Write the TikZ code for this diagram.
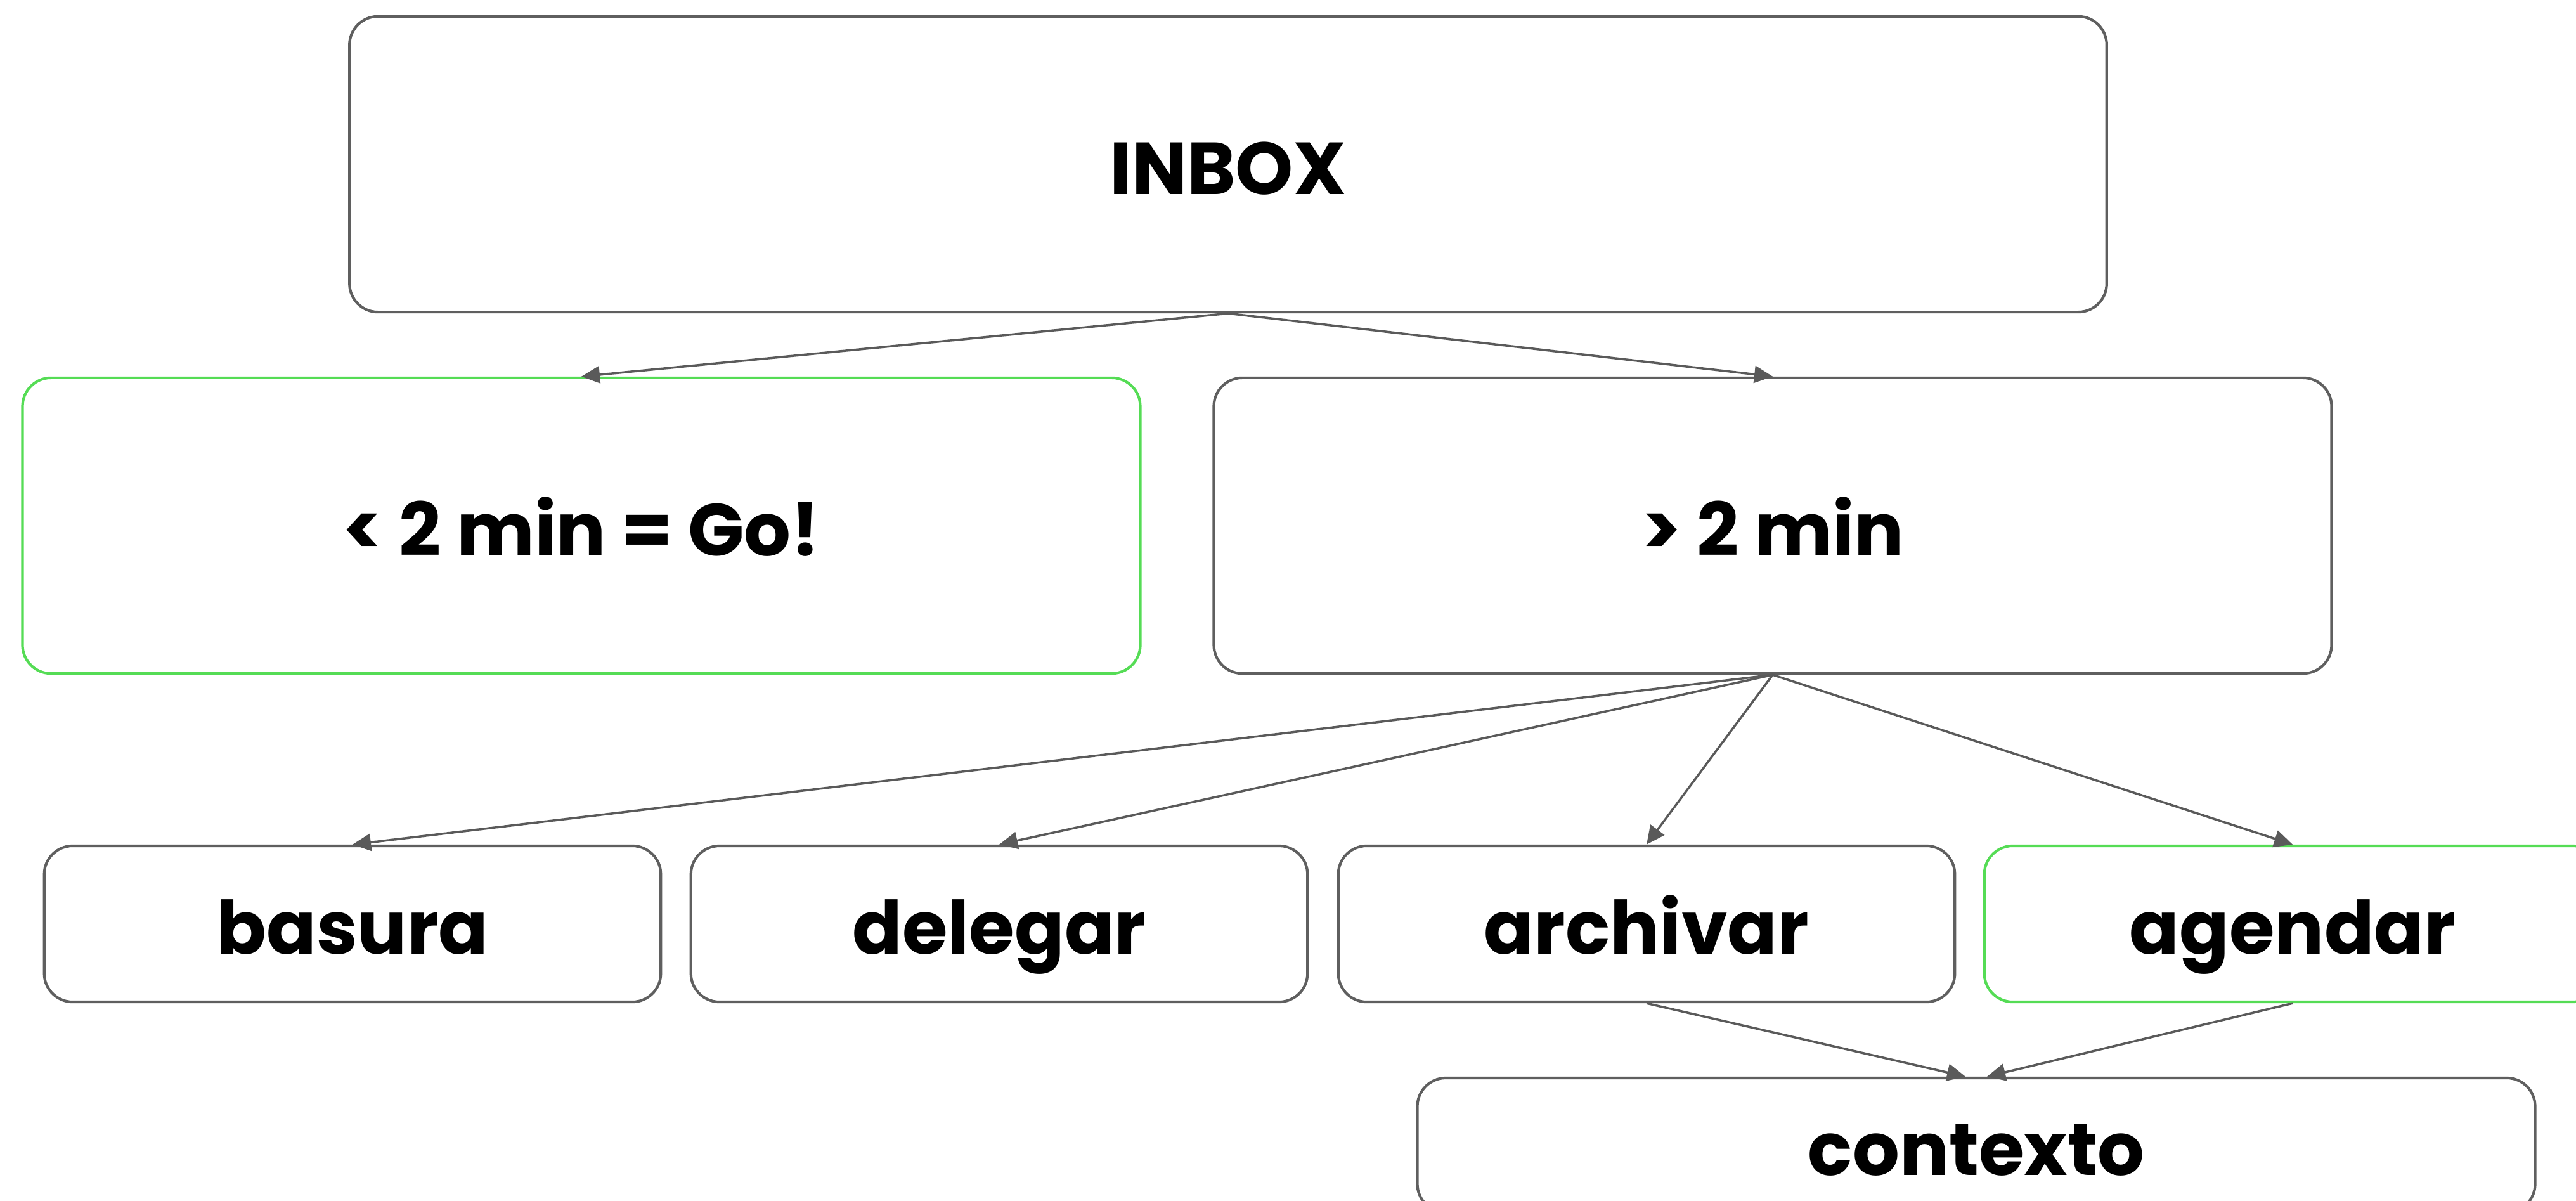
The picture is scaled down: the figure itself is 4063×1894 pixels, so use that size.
\documentclass[tikz,border=0pt]{standalone}
\usepackage{fontspec}
\setmainfont{Poppins}
\usetikzlibrary{arrows.meta}
\definecolor{boxgray}{RGB}{95,95,95}
\definecolor{linegray}{RGB}{90,90,90}
\definecolor{okgreen}{RGB}{85,220,85}

\begin{document}
\begin{tikzpicture}[x=0.01cm,y=-0.01cm,
    box/.style={draw=boxgray, line width=1.2pt, rounded corners=0.45cm,
      font=\fontsize{33}{40}\selectfont\bfseries, text=black,
      text height=29pt, text depth=2pt},
    bigbox/.style={box, minimum width=17.62cm, minimum height=4.66cm},
    smallbox/.style={box, minimum width=9.72cm, minimum height=2.46cm},
    greenbox/.style={draw=okgreen},
    arr/.style={draw=linegray, line width=1pt,
      -{Triangle[length=2.9mm,width=2.7mm]}}]
    \clip (0,0) rectangle (4063,1894);
    \node[box, minimum width=27.7cm, minimum height=4.66cm] (inbox) at (1937,259) {INBOX};
    \node[bigbox, greenbox] (menos) at (917,829) {< 2 min = Go!};
    \node[bigbox] (mas) at (2796,829) {> 2 min};
    \node[smallbox] (basura) at (556,1457) {basura};
    \node[smallbox] (delegar) at (1576,1457) {delegar};
    \node[smallbox] (archivar) at (2597,1457) {archivar};
    \node[smallbox, greenbox] (agendar) at (3616,1457) {agendar};
    \node[bigbox, minimum height=2.12cm] (contexto) at (3117,1806) {contexto};
    \draw[arr] (inbox.south) -- (menos.north);
    \draw[arr] (inbox.south) -- (mas.north);
    \draw[arr] (mas.south) -- (basura.north);
    \draw[arr] (mas.south) -- (delegar.north);
    \draw[arr] (mas.south) -- (archivar.north);
    \draw[arr] (mas.south) -- (agendar.north);
    \draw[arr] (archivar.south) -- ([xshift=-0.17cm]contexto.north);
    \draw[arr] (agendar.south) -- ([xshift=0.17cm]contexto.north);
\end{tikzpicture}
\end{document}
